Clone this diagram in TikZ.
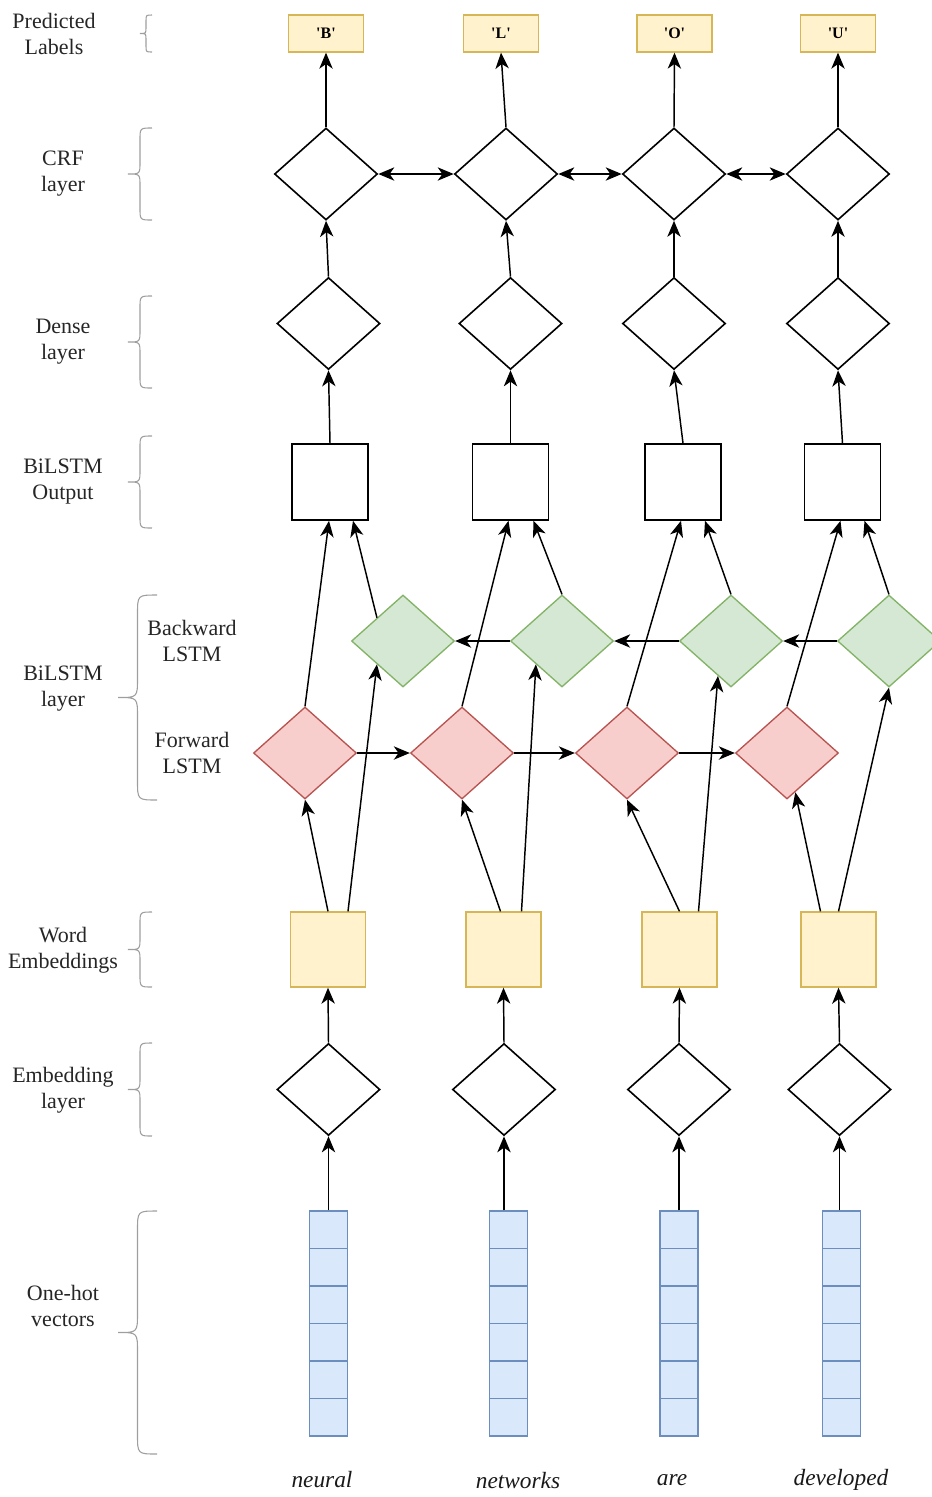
\documentclass[tikz,border=0pt]{standalone}
\usepackage{fontspec}
\setmainfont{Liberation Serif}
\usetikzlibrary{shapes.geometric,arrows.meta,calc}

\definecolor{tagfill}{RGB}{255,242,204}
\definecolor{tagline}{RGB}{214,182,86}
\definecolor{bwfill}{RGB}{213,232,212}
\definecolor{bwline}{RGB}{130,179,102}
\definecolor{fwfill}{RGB}{248,206,204}
\definecolor{fwline}{RGB}{184,84,80}
\definecolor{hotfill}{RGB}{218,232,252}
\definecolor{hotline}{RGB}{108,142,191}
\definecolor{bracegray}{RGB}{158,158,158}

\tikzset{every picture/.style={line width=1.1pt},
  tip/.tip={Stealth[length=12pt,width=10pt,inset=3.5pt]},
  plaindia/.style={diamond,draw,line width=1.2pt,minimum width=77.25pt,minimum height=69pt,inner sep=0pt},
  fwdia/.style={plaindia,draw=fwline,fill=fwfill,line width=1pt},
  bwdia/.style={plaindia,draw=bwline,fill=bwfill,line width=1pt},
  outbox/.style={rectangle,draw,line width=1.2pt,minimum size=57pt,inner sep=0pt},
  embbox/.style={rectangle,draw=tagline,fill=tagfill,line width=1pt,minimum size=56.25pt,inner sep=0pt},
  tagbox/.style={rectangle,draw=tagline,fill=tagfill,line width=1pt,minimum width=56.25pt,minimum height=27.75pt,inner sep=0pt,font=\fontsize{12}{14}\selectfont\bfseries},
  hotcell/.style={rectangle,draw=hotline,fill=hotfill,line width=1pt,minimum width=28.5pt,minimum height=28.125pt,inner sep=0pt},
  layertext/.style={align=center,inner sep=0pt,text=black!85,font=\fontsize{16.5}{19.5}\selectfont},
  wordtext/.style={inner sep=0pt,text=black!90,font=\fontsize{17.5}{20}\selectfont\itshape},
  bracestyle/.style={draw=bracegray,line width=0.8pt},
  arrow/.style={-tip},
  biarrow/.style={tip-tip}
}

% curly bracket: x of the ends, x of the tip, top y, bottom y
\newcommand{\layerbrace}[4]{%
  \pgfmathsetmacro{\brcX}{(#1+#2)/2}
  \pgfmathsetmacro{\brcR}{(#1-#2)/2}
  \pgfmathsetmacro{\brcY}{(#3+#4)/2}
  \draw[bracestyle] (#1,#3) .. controls (\brcX,#3) .. (\brcX,#3+\brcR) -- (\brcX,\brcY-\brcR) .. controls (\brcX,\brcY) .. (#2,\brcY) .. controls (\brcX,\brcY) .. (\brcX,\brcY+\brcR) -- (\brcX,#4-\brcR) .. controls (\brcX,#4) .. (#1,#4);
}

\begin{document}
\begin{tikzpicture}[x=0.75pt,y=0.75pt,yscale=-1,xscale=1]
\useasboundingbox (0,0) rectangle (932,1497);

%Predicted labels
\node[tagbox] (tag1) at (326,33.5) {\textquotesingle B\textquotesingle};
\node[tagbox] (tag2) at (501,33.5) {\textquotesingle L\textquotesingle};
\node[tagbox] (tag3) at (674.5,33.5) {\textquotesingle O\textquotesingle};
\node[tagbox] (tag4) at (838,33.5) {\textquotesingle U\textquotesingle};

%CRF layer
\node[plaindia] (crf1) at (326,174) {};
\node[plaindia] (crf2) at (506,174) {};
\node[plaindia] (crf3) at (674,174) {};
\node[plaindia] (crf4) at (838,174) {};

%Dense layer
\node[plaindia] (dn1) at (328.5,323.5) {};
\node[plaindia] (dn2) at (510.5,323.5) {};
\node[plaindia] (dn3) at (674,323.5) {};
\node[plaindia] (dn4) at (838,323.5) {};

%BiLSTM output
\node[outbox] (out1) at (330,482) {};
\node[outbox] (out2) at (510.5,482) {};
\node[outbox] (out3) at (683,482) {};
\node[outbox] (out4) at (842.5,482) {};

%Backward LSTM
\node[bwdia] (bw1) at (403,641) {};
\node[bwdia] (bw2) at (562,641) {};
\node[bwdia] (bw3) at (731,641) {};
\node[bwdia] (bw4) at (889,641) {};

%Forward LSTM
\node[fwdia] (fw1) at (305,753) {};
\node[fwdia] (fw2) at (462,753) {};
\node[fwdia] (fw3) at (627,753) {};
\node[fwdia] (fw4) at (787,753) {};

%Word embeddings
\node[embbox] (we1) at (328,949.5) {};
\node[embbox] (we2) at (503.5,949.5) {};
\node[embbox] (we3) at (679.5,949.5) {};
\node[embbox] (we4) at (838.5,949.5) {};

%Embedding layer
\node[plaindia] (em1) at (328.5,1089.5) {};
\node[plaindia] (em2) at (504,1089.5) {};
\node[plaindia] (em3) at (679,1089.5) {};
\node[plaindia] (em4) at (839.5,1089.5) {};

%One-hot vectors
\foreach \c/\x in {1/328.5,2/508.5,3/679,4/841.5}{
  \foreach \k in {0,...,5}{
    \node[hotcell] (oh\c-\k) at (\x,1229.75+37.5*\k) {};
  }
}

% Text Node
\node[wordtext] (word1) at (322,1480) {neural};
% Text Node
\node[wordtext] (word2) at (518,1480) {networks};
% Text Node
\node[wordtext] (word3) at (672,1480) {are};
% Text Node
\node[wordtext] (word4) at (841,1480) {developed};

%Straight Lines: CRF to labels
\draw[arrow] (crf1.north) -- (tag1.south);
\draw[arrow] (crf2.north) -- (tag2.south);
\draw[arrow] (crf3.north) -- (tag3.south);
\draw[arrow] (crf4.north) -- (tag4.south);
%Straight Lines: CRF chain
\draw[biarrow] (crf1.east) -- (crf2.west);
\draw[biarrow] (crf2.east) -- (crf3.west);
\draw[biarrow] (crf3.east) -- (crf4.west);
%Straight Lines: dense to CRF
\draw[arrow] (dn1.north) -- (crf1.south);
\draw[arrow] (dn2.north) -- (crf2.south);
\draw[arrow] (dn3.north) -- (crf3.south);
\draw[arrow] (dn4.north) -- (crf4.south);
%Straight Lines: output to dense
\draw[arrow] (out1.north) -- (dn1.south);
\draw[arrow] (out2.north) -- (dn2.south);
\draw[arrow] (out3.north) -- (dn3.south);
\draw[arrow] (out4.north) -- (dn4.south);
%Straight Lines: forward LSTM to output
\draw[arrow] (fw1.north) -- ($(out1.south)+(-1,0)$);
\draw[arrow] (fw2.north) -- ($(out2.south)+(-2,0)$);
\draw[arrow] (fw3.north) -- ($(out3.south)+(-2,0)$);
\draw[arrow] (fw4.north) -- ($(out4.south)+(-2,0)$);
%Straight Lines: backward LSTM to output
\draw[arrow] (bw1.north west) -- ($(out1.south)+(23,0)$);
\draw[arrow] (bw2.north) -- ($(out2.south)+(23,0)$);
\draw[arrow] (bw3.north) -- ($(out3.south)+(22,0)$);
\draw[arrow] (bw4.north) -- ($(out4.south)+(22,0)$);
%Straight Lines: forward chain
\draw[arrow] (fw1.east) -- (fw2.west);
\draw[arrow] (fw2.east) -- (fw3.west);
\draw[arrow] (fw3.east) -- (fw4.west);
%Straight Lines: backward chain
\draw[arrow] (bw2.west) -- (bw1.east);
\draw[arrow] (bw3.west) -- (bw2.east);
\draw[arrow] (bw4.west) -- (bw3.east);
%Straight Lines: embeddings to forward LSTM
\draw[arrow] (we1.north) -- (fw1.south);
\draw[arrow] ($(we2.north)+(-3,0)$) -- (fw2.south);
\draw[arrow] (we3.north) -- (fw3.south);
\draw[arrow] ($(we4.north)+(-18,0)$) -- (fw4);
%Straight Lines: embeddings to backward LSTM
\draw[arrow] ($(we1.north)+(20,0)$) -- (bw1.south west);
\draw[arrow] ($(we2.north)+(18,0)$) -- (bw2.south west);
\draw[arrow] ($(we3.north)+(19,0)$) -- ($(bw3.south)!0.25!(bw3.west)$);
\draw[arrow] (we4.north) -- (bw4.south);
%Straight Lines: embedding layer to word embeddings
\draw[arrow] (em1.north) -- (we1.south);
\draw[arrow] (em2.north) -- (we2.south);
\draw[arrow] (em3.north) -- (we3.south);
\draw[arrow] (em4.north) -- (we4.south);
%Straight Lines: one-hot to embedding layer
\draw[arrow] (em1.south |- oh1-0.north) -- (em1.south);
\draw[arrow] (em2.south |- oh2-0.north) -- (em2.south);
\draw[arrow] (em3.south |- oh3-0.north) -- (em3.south);
\draw[arrow] (em4.south |- oh4-0.north) -- (em4.south);

%Brackets
\layerbrace{152}{140}{15}{52}
\layerbrace{152}{128}{128}{220}
\layerbrace{152}{128}{296}{388}
\layerbrace{152}{128}{436}{528}
\layerbrace{157}{118}{595}{800}
\layerbrace{152}{128}{912}{987}
\layerbrace{152}{128}{1043}{1136}
\layerbrace{157}{118}{1211}{1454}

% Text Node
\node[layertext] (txpred) at (54,34) {Predicted\\Labels};
% Text Node
\node[layertext] (txcrf) at (63,174) {CRF\\layer};
% Text Node
\node[layertext] (txdense) at (63,342) {Dense\\layer};
% Text Node
\node[layertext] (txout) at (63,482) {BiLSTM\\Output};
% Text Node
\node[layertext] (txbilstm) at (63,689) {BiLSTM\\layer};
% Text Node
\node[layertext] (txbw) at (192,641) {Backward\\LSTM};
% Text Node
\node[layertext] (txfw) at (192,753) {Forward\\LSTM};
% Text Node
\node[layertext] (txword) at (63,950) {Word\\Embeddings};
% Text Node
\node[layertext] (txemb) at (63,1090) {Embedding\\layer};
% Text Node
\node[layertext] (txhot) at (63,1306) {One-hot\\vectors};

\end{tikzpicture}
\end{document}
